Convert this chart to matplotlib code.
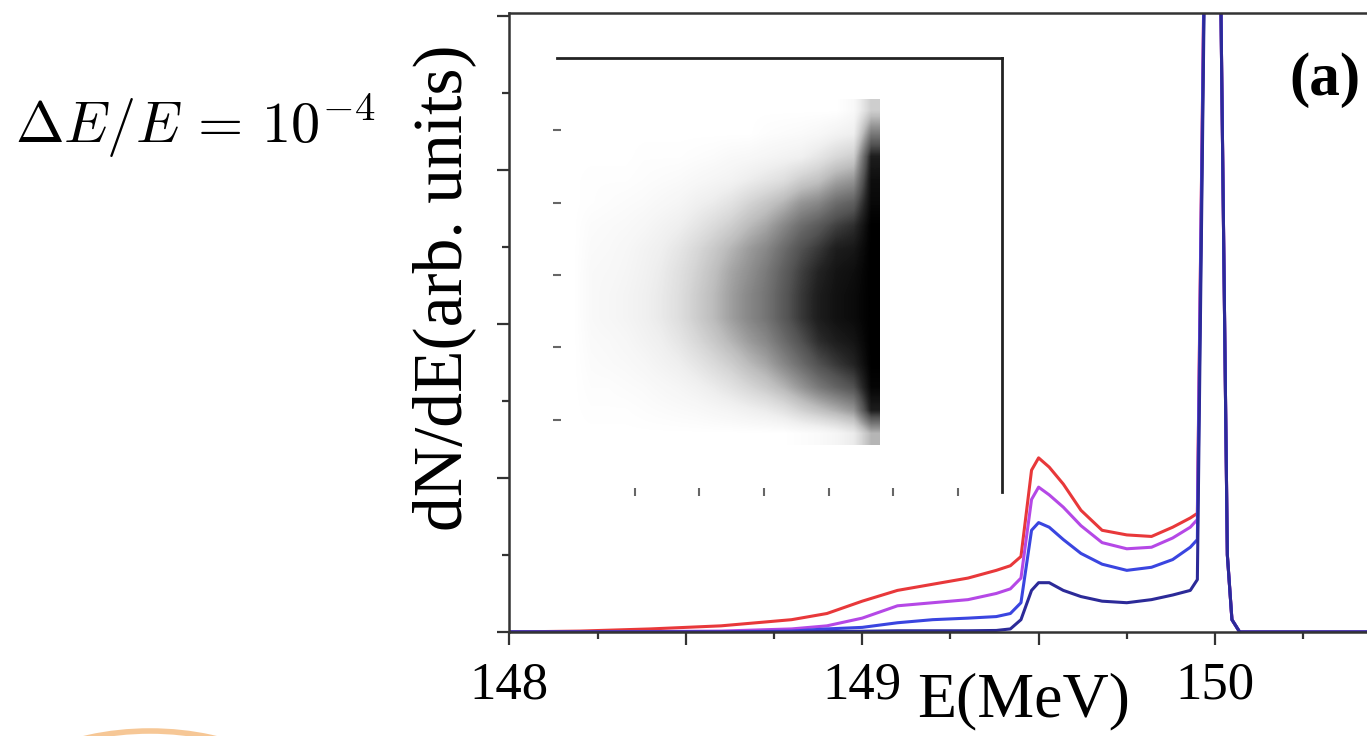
import matplotlib
matplotlib.use("Agg")
import numpy as np
import matplotlib.pyplot as plt
from matplotlib.ticker import MultipleLocator, FuncFormatter
from matplotlib.patches import Arc

plt.rcParams['font.family'] = ['Liberation Serif', 'DejaVu Serif']
plt.rcParams['mathtext.fontset'] = 'cm'

# energy grid (MeV) shared by the four spectra
energy = [148.0, 148.2, 148.4, 148.6, 148.8, 148.9, 149.0, 149.1, 149.2, 149.3,
          149.38, 149.42, 149.45, 149.48, 149.5, 149.53, 149.57, 149.62, 149.68,
          149.75, 149.82, 149.88, 149.93, 149.95, 149.993, 150.035, 150.048, 150.07, 150.5]

# dN/dE in arbitrary units, one list per curve
red = [0, 0.006, 0.02, 0.04, 0.08, 0.12, 0.20, 0.27, 0.31, 0.35, 0.40, 0.43, 0.49, 1.05,
       1.13, 1.07, 0.96, 0.79, 0.66, 0.63, 0.62, 0.68, 0.74, 0.77, 8.7, 0.5, 0.08, 0, 0]
magenta = [0, 0, 0.003, 0.006, 0.02, 0.04, 0.09, 0.17, 0.19, 0.21, 0.25, 0.28, 0.35, 0.86,
           0.94, 0.89, 0.81, 0.69, 0.58, 0.54, 0.55, 0.61, 0.68, 0.73, 8.7, 0.5, 0.08, 0, 0]
blue = [0, 0, 0, 0, 0.006, 0.02, 0.03, 0.06, 0.08, 0.09, 0.10, 0.12, 0.19, 0.66,
        0.71, 0.68, 0.60, 0.51, 0.44, 0.40, 0.42, 0.47, 0.55, 0.60, 8.7, 0.5, 0.08, 0, 0]
navy = [0, 0, 0, 0, 0, 0.003, 0.005, 0.008, 0.008, 0.008, 0.01, 0.02, 0.08, 0.27,
        0.32, 0.32, 0.27, 0.23, 0.20, 0.19, 0.21, 0.24, 0.27, 0.34, 8.7, 0.5, 0.08, 0, 0]

# inset: particle density (darkness 0..1), rows top -> bottom, columns left -> right
density = np.array([
    [0, 0, 0, 0, 0, 0, 0, 0, 0, 0, 0, 0, 0, 0, 0, 0, 0.05, 0.3],
    [0, 0, 0, 0, 0, 0, 0, 0, 0, 0, 0, 0.02, 0.03, 0.04, 0.06, 0.1, 0.13, 0.6],
    [0, 0, 0, 0, 0.01, 0.01, 0.01, 0.02, 0.03, 0.05, 0.06, 0.08, 0.1, 0.12, 0.18, 0.25, 0.3, 0.9],
    [0, 0.01, 0.01, 0.01, 0.02, 0.03, 0.04, 0.06, 0.08, 0.1, 0.14, 0.18, 0.22, 0.3, 0.35, 0.45, 0.5, 0.95],
    [0, 0.01, 0.02, 0.03, 0.04, 0.06, 0.08, 0.12, 0.15, 0.2, 0.27, 0.33, 0.4, 0.5, 0.55, 0.65, 0.7, 0.97],
    [0, 0.03, 0.04, 0.05, 0.07, 0.1, 0.13, 0.18, 0.24, 0.3, 0.38, 0.45, 0.55, 0.65, 0.72, 0.8, 0.85, 1.0],
    [0, 0.04, 0.05, 0.07, 0.1, 0.13, 0.18, 0.25, 0.32, 0.4, 0.48, 0.55, 0.65, 0.75, 0.82, 0.9, 0.92, 1.0],
    [0, 0.05, 0.06, 0.08, 0.11, 0.15, 0.21, 0.28, 0.36, 0.45, 0.52, 0.6, 0.7, 0.8, 0.88, 0.93, 0.95, 1.0],
    [0, 0.05, 0.07, 0.09, 0.12, 0.16, 0.22, 0.3, 0.38, 0.47, 0.55, 0.62, 0.72, 0.82, 0.9, 0.94, 0.96, 1.0],
    [0, 0.05, 0.07, 0.09, 0.12, 0.16, 0.22, 0.3, 0.38, 0.47, 0.55, 0.62, 0.72, 0.82, 0.9, 0.94, 0.96, 1.0],
    [0, 0.04, 0.05, 0.07, 0.1, 0.13, 0.18, 0.25, 0.32, 0.4, 0.48, 0.55, 0.65, 0.75, 0.85, 0.9, 0.93, 1.0],
    [0, 0.03, 0.04, 0.05, 0.07, 0.1, 0.13, 0.18, 0.24, 0.3, 0.38, 0.45, 0.55, 0.65, 0.75, 0.82, 0.88, 1.0],
    [0, 0.02, 0.02, 0.03, 0.04, 0.06, 0.08, 0.11, 0.15, 0.2, 0.26, 0.32, 0.4, 0.5, 0.6, 0.68, 0.75, 0.98],
    [0, 0.01, 0.01, 0.01, 0.02, 0.03, 0.04, 0.05, 0.07, 0.09, 0.12, 0.15, 0.2, 0.28, 0.35, 0.42, 0.5, 0.9],
    [0, 0, 0, 0, 0, 0, 0, 0, 0, 0, 0, 0, 0, 0.02, 0.04, 0.08, 0.15, 0.4],
])

W, H = 1367, 736
fig = plt.figure(figsize=(W / 100, H / 100), dpi=100)

# main axes runs off the right edge of the picture, like the cropped original
ax = fig.add_axes([509.4 / W, 104 / H, 882 / W, 619.5 / H])
ax.plot(energy, red, color='#e8383a', lw=2.2)
ax.plot(energy, magenta, color='#b548e6', lw=2.2)
ax.plot(energy, blue, color='#3a45e0', lw=2.2)
ax.plot(energy, navy, color='#2c2a98', lw=2.2)
ax.set_xlim(148, 150.5)
ax.set_ylim(0, 4.02)

ax.xaxis.set_major_locator(MultipleLocator(0.5))
ax.xaxis.set_minor_locator(MultipleLocator(0.25))
ax.xaxis.set_major_formatter(FuncFormatter(lambda v, p: f"{v:.0f}" if abs(v - round(v)) < 1e-6 else ""))
ax.yaxis.set_major_locator(MultipleLocator(1))
ax.yaxis.set_minor_locator(MultipleLocator(0.5))
ax.tick_params(which='major', direction='out', length=9, width=1.6, color='#333333',
               labelsize=38, pad=12, labelleft=False)
ax.tick_params(which='minor', direction='out', length=5, width=1.6, color='#333333')
for s in ax.spines.values():
    s.set_linewidth(1.8)
    s.set_color('#333333')

ax.set_xlabel('E(MeV)', fontsize=46, va='baseline')
ax.xaxis.set_label_coords(0.5835, (20 - 104) / 619.5)
ax.set_ylabel('dN/dE(arb. units)', fontsize=50, va='center')
ax.yaxis.set_label_coords((444 - 509.4) / 882, (448 - 104) / 619.5)

# inset with the particle distribution
ins = fig.add_axes([557 / W, (H - 492) / H, 445 / W, 434 / H])
ins.set_facecolor('none')
ins.imshow(density, extent=[-1.076, 3.794, 0.65, 5.42], cmap='Greys', vmin=0, vmax=1,
           interpolation='bilinear', aspect='auto')
ins.set_xlim(-1.2, 5.68)
ins.set_ylim(0, 6)
ins.set_xticks(range(6))
ins.set_yticks(range(1, 6))
ins.tick_params(direction='inout', length=6, width=1.5, colors='#666666',
                labelleft=False, labelbottom=False)
ins.spines['left'].set_visible(False)
ins.spines['bottom'].set_visible(False)
for side in ['top', 'right']:
    ins.spines[side].set_linewidth(2)
    ins.spines[side].set_color('#222222')

fig.text(1325 / W, (H - 80) / H, '(a)', fontsize=44, fontweight='bold', ha='center', va='center')
fig.text(15 / W, (H - 143) / H, r'$\Delta E/E\,=\,10^{-4}$', fontsize=42, ha='left', va='baseline')

# bit of an orange swoosh at the bottom left
fig.patches.append(Arc((150 / W, -70 / H), 300 / W, 150 / H, theta1=40, theta2=140,
                       color='#f3b06a', lw=4, alpha=0.7, transform=fig.transFigure))

fig.savefig('out.png', dpi=100)
